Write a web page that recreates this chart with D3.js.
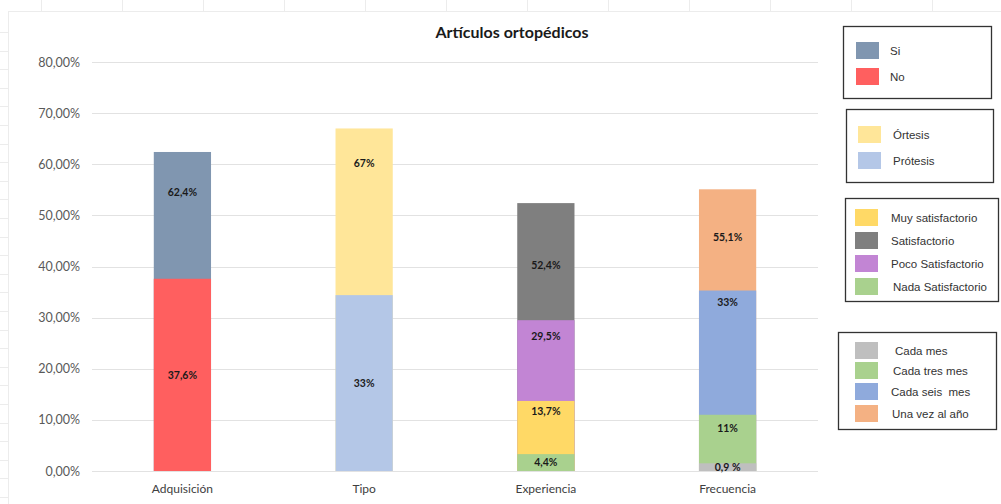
<!DOCTYPE html>
<html lang="es">
<head>
<meta charset="utf-8">
<title>Artículos ortopédicos</title>
<script src="https://d3js.org/d3.v7.min.js"></script>
<style>
  body { margin: 0; background: #fff; }
  svg { display: block; }
  text { white-space: pre; }
</style>
</head>
<body>
<script>
// categories on the x axis
var categories = ["Adquisición", "Tipo", "Experiencia", "Frecuencia"];

// series per category, drawn back to front (bars overlap, largest behind)
var seriesNames = [
  ["Si", "No"],
  ["Órtesis", "Prótesis"],
  ["Satisfactorio", "Poco Satisfactorio", "Muy satisfactorio", "Nada Satisfactorio"],
  ["Una vez al año", "Cada seis  mes", "Cada tres mes", "Cada mes"]
];
// bar heights as drawn (%)
var seriesValues = [
  [62.4, 37.6],
  [67, 34.4],
  [52.4, 29.5, 13.7, 3.3],
  [55.1, 35.3, 11, 1.5]
];
// data label text
var seriesLabels = [
  ["62,4%", "37,6%"],
  ["67%", "33%"],
  ["52,4%", "29,5%", "13,7%", "4,4%"],
  ["55,1%", "33%", "11%", "0,9 %"]
];
var yTicks = [0, 10, 20, 30, 40, 50, 60, 70, 80];

// legend groups (order as shown in the boxes)
var legendGroups = [
  ["Si", "No"],
  ["Órtesis", "Prótesis"],
  ["Muy satisfactorio", "Satisfactorio", "Poco Satisfactorio", "Nada Satisfactorio"],
  ["Cada mes", "Cada tres mes", "Cada seis  mes", "Una vez al año"]
];

var colors = {
  "Si": "#8096b0", "No": "#ff5f5f",
  "Órtesis": "#ffe699", "Prótesis": "#b4c7e7",
  "Muy satisfactorio": "#ffd966", "Satisfactorio": "#7f7f7f",
  "Poco Satisfactorio": "#c285d4", "Nada Satisfactorio": "#a9d18e",
  "Cada mes": "#bfbfbf", "Cada tres mes": "#a9d18e",
  "Cada seis  mes": "#8faadc", "Una vez al año": "#f4b183"
};

var W = 1001, H = 504;
var svg = d3.select("body").append("svg").attr("width", W).attr("height", H);

// faint spreadsheet frame behind the chart
var frame = svg.append("g").attr("stroke", "#ececec").attr("stroke-width", 1);
frame.append("line").attr("x1", 8).attr("x2", W).attr("y1", 11.5).attr("y2", 11.5);
frame.append("line").attr("x1", 8.5).attr("x2", 8.5).attr("y1", 11).attr("y2", H);
d3.range(41, W, 81).forEach(function(x) {
  frame.append("line").attr("x1", x + 0.5).attr("x2", x + 0.5).attr("y1", 0).attr("y2", 11);
});
d3.range(32, H, 18.6).forEach(function(y) {
  frame.append("line").attr("x1", 0).attr("x2", 8).attr("y1", Math.round(y) + 0.5).attr("y2", Math.round(y) + 0.5);
});

var x = d3.scaleBand().domain(categories).range([92, 818]).paddingInner(0.685).paddingOuter(0.34);
var y = d3.scaleLinear().domain([0, 80]).range([471, 62]);

// gridlines
svg.append("g").selectAll("line").data(yTicks).join("line")
  .attr("x1", 92).attr("x2", 818)
  .attr("y1", function(d) { return Math.round(y(d)) + 0.5; })
  .attr("y2", function(d) { return Math.round(y(d)) + 0.5; })
  .attr("stroke", "#e2e2e2").attr("stroke-width", 1);

// y axis labels
var yAxis = svg.append("g").attr("transform", "translate(80,0)")
  .call(d3.axisLeft(y).tickValues(yTicks).tickSize(0).tickPadding(0)
    .tickFormat(function(d) { return d.toFixed(2).replace(".", ",") + "%"; }));
yAxis.select(".domain").remove();
yAxis.selectAll("text").attr("fill", "#595959").style("font-family", "Lato, 'Open Sans', sans-serif").style("font-size", "12.5px");

// x axis labels
var xAxis = svg.append("g").attr("transform", "translate(0,471)")
  .call(d3.axisBottom(x).tickSize(0).tickPadding(13));
xAxis.select(".domain").remove();
xAxis.selectAll("text").attr("fill", "#404040").style("font-family", "Lato, 'Open Sans', sans-serif").style("font-size", "12px");

// label anchors in value units (labels were placed by hand in the original)
var labelAt = [
  [54.5, 18.8],
  [60.1, 17.1],
  [40.2, 26.3, 11.6, 1.6],
  [45.7, 32.9, 8.4, 0.7]
];

categories.forEach(function(cat, ci) {
  var g = svg.append("g");
  var rows = seriesNames[ci].map(function(n, i) {
    return { name: n, value: seriesValues[ci][i], label: seriesLabels[ci][i], at: labelAt[ci][i] };
  });
  g.selectAll("rect").data(rows).join("rect")
    .attr("x", x(cat)).attr("width", x.bandwidth())
    .attr("y", function(d) { return y(d.value); })
    .attr("height", function(d) { return y(0) - y(d.value); })
    .attr("fill", function(d) { return colors[d.name]; });
  g.selectAll("text").data(rows).join("text")
    .attr("x", x(cat) + x.bandwidth() / 2)
    .attr("y", function(d) { return y(d.at); })
    .attr("dy", "0.35em")
    .attr("text-anchor", "middle")
    .style("font-family", "Lato, 'Open Sans', sans-serif")
    .style("font-size", "10.5px").style("font-weight", "bold")
    .attr("fill", "#1a1a1a")
    .text(function(d) { return d.label; });
});

// title
svg.append("text").attr("x", 512).attr("y", 38).attr("text-anchor", "middle")
  .style("font-family", "Lato, 'Open Sans', sans-serif").style("font-size", "16px").style("font-weight", "bold")
  .attr("fill", "#1a1a1a").text("Artículos ortopédicos");

// legend boxes
var boxes = [
  { x: 843.5, y: 26.5, w: 148, h: 72, sx: 856, tx: [890, 890], rows: [42, 68] },
  { x: 846.5, y: 109.5, w: 147, h: 73, sx: 858, tx: [893, 893], rows: [126, 152] },
  { x: 845.5, y: 198.5, w: 153, h: 103, sx: 855, tx: [891, 891, 891, 893], rows: [209, 232, 255, 278] },
  { x: 838.5, y: 332.5, w: 158, h: 97, sx: 855, tx: [895, 893, 891, 892], rows: [342, 362, 383, 405] }
];
boxes.forEach(function(b, bi) {
  var g = svg.append("g");
  g.append("rect").attr("x", b.x).attr("y", b.y).attr("width", b.w).attr("height", b.h)
    .attr("fill", "#fff").attr("stroke", "#333").attr("stroke-width", 1.3);
  legendGroups[bi].forEach(function(name, i) {
    g.append("rect").attr("x", b.sx).attr("y", b.rows[i]).attr("width", 23).attr("height", 17)
      .attr("fill", colors[name]);
    g.append("text").attr("x", b.tx[i]).attr("y", b.rows[i] + 8.5).attr("dy", "0.35em")
      .style("font-family", "'Liberation Sans', Arial, sans-serif").style("font-size", "11.5px")
      .attr("fill", "#333").text(name);
  });
});
</script>
</body>
</html>
